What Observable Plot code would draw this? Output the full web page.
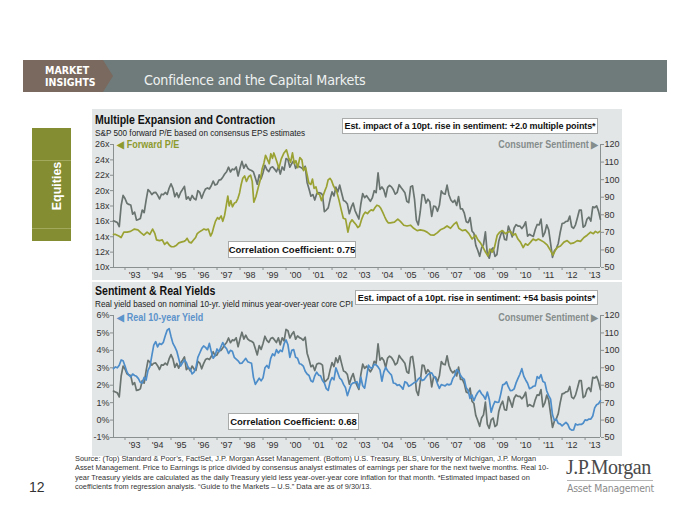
<!DOCTYPE html>
<html><head><meta charset="utf-8">
<script src="https://cdn.jsdelivr.net/npm/d3@7"></script>
<script src="https://cdn.jsdelivr.net/npm/@observablehq/plot@0.6"></script>
<style>
html,body{margin:0;padding:0;background:#fff;}
body{width:700px;height:525px;position:relative;overflow:hidden;font-family:"Liberation Sans",Arial,Helvetica,sans-serif;}
.abs{position:absolute;}
.box{position:absolute;background:#fff;border:1px solid #a9abab;font-weight:bold;color:#111;white-space:nowrap;box-sizing:border-box;display:flex;align-items:center;justify-content:center;z-index:3;}
.ptitle{position:absolute;font-weight:bold;font-size:12px;color:#111;white-space:nowrap;transform:scaleX(0.88);transform-origin:0 0;}
.psub{position:absolute;font-size:9.5px;color:#222;white-space:nowrap;transform:scaleX(0.86);transform-origin:0 0;}
.leg{position:absolute;font-weight:bold;font-size:10px;white-space:nowrap;transform:scaleX(0.9);}
svg{position:absolute;left:0;overflow:visible;}
</style></head>
<body>
<div id="hdr" class="abs" style="left:23px;top:60px;width:644px;height:32px;background:#6f7b7a;"></div>
<div class="abs" style="left:23px;top:60px;width:90px;height:32px;background:#7a695e;clip-path:polygon(0 0,80px 0,90px 50%,80px 100%,0 100%);"></div>
<div class="abs" style="left:45px;top:64px;color:#fff;font-weight:bold;font-size:10.5px;line-height:12px;font-family:'DejaVu Sans Condensed','DejaVu Sans',sans-serif;">MARKET<br>INSIGHTS</div>
<div class="abs" style="left:144px;top:72px;color:#eef1f1;font-size:14.2px;font-family:'DejaVu Sans Condensed','DejaVu Sans',sans-serif;font-weight:normal;letter-spacing:-0.2px;">Confidence and the Capital Markets</div>

<div class="abs" style="left:32px;top:128px;width:39px;height:113px;background:#848d31;"></div>
<div class="abs" style="left:32px;top:160px;width:39px;height:1px;background:#a2a95c;"></div>
<div class="abs" style="left:32px;top:228px;width:39px;height:1px;background:#a2a95c;"></div>
<div class="abs" style="left:57px;top:186px;transform:translate(-50%,-50%) rotate(-90deg);color:#fff;font-weight:bold;font-size:12.5px;white-space:nowrap;">Equities</div>

<div class="abs" style="left:92px;top:109px;width:530px;height:347px;background:#e3e6e7;"></div>
<div class="abs" style="left:92px;top:280px;width:530px;height:2px;background:#fff;"></div>

<div class="ptitle" style="left:95px;top:113px;">Multiple Expansion and Contraction</div>
<div class="psub" style="left:95px;top:127px;">S&amp;P 500 forward P/E based on consensus EPS estimates</div>
<div class="ptitle" style="left:95px;top:284px;">Sentiment &amp; Real Yields</div>
<div class="psub" style="left:95px;top:298px;">Real yield based on nominal 10-yr. yield minus year-over-year core CPI</div>

<div id="top"></div>
<div id="bot"></div>

<div class="leg" style="left:117px;top:139px;color:#8d9a2e;transform-origin:0 0;">&#9664; Forward P/E</div>
<div class="leg" style="right:102px;top:139px;color:#858d8c;transform-origin:100% 0;">Consumer Sentiment &#9654;</div>
<div class="leg" style="left:117px;top:312px;color:#5b93cb;transform-origin:0 0;">&#9664; Real 10-year Yield</div>
<div class="leg" style="right:102px;top:312px;color:#858d8c;transform-origin:100% 0;">Consumer Sentiment &#9654;</div>

<div class="box" style="left:342px;top:118px;width:256px;height:16px;font-size:9px;letter-spacing:-0.1px;">Est. impact of a 10pt. rise in sentiment: +2.0 multiple points*</div>
<div class="box" style="left:228px;top:241px;width:128px;height:17px;font-size:9.5px;">Correlation Coefficient: 0.75</div>
<div class="box" style="left:355px;top:290px;width:243px;height:15px;font-size:9px;letter-spacing:-0.1px;">Est. impact of a 10pt. rise in sentiment: +54 basis points*</div>
<div class="box" style="left:228px;top:413px;width:131px;height:17px;font-size:9.5px;">Correlation Coefficient: 0.68</div>

<div class="abs" style="left:75px;top:454px;font-size:7.4px;line-height:9.4px;color:#333;white-space:nowrap;">Source: (Top) Standard &amp; Poor’s, FactSet, J.P. Morgan Asset Management. (Bottom) U.S. Treasury, BLS, University of Michigan, J.P. Morgan<br>Asset Management. Price to Earnings is price divided by consensus analyst estimates of earnings per share for the next twelve months. Real 10-<br>year Treasury yields are calculated as the daily Treasury yield less year-over-year core inflation for that month. *Estimated impact based on<br>coefficients from regression analysis. “Guide to the Markets – U.S.” Data are as of 9/30/13.</div>
<div class="abs" style="left:29px;top:479px;font-size:14px;color:#333;">12</div>
<div class="abs" style="left:566px;top:456px;font-family:'Liberation Serif','Times New Roman',serif;font-size:20px;color:#4a4a4a;letter-spacing:-0.5px;">J.P.Morgan</div>
<div class="abs" style="left:567px;top:480px;width:86px;height:1px;background:#b5b5b5;"></div>
<div class="abs" style="left:567px;top:482px;font-family:'DejaVu Sans Condensed','DejaVu Sans',sans-serif;font-size:10.4px;color:#8b8b8b;letter-spacing:-0.2px;">Asset Management</div>

<script>
// ---------- DATA ----------
// Monthly series start July 1992, end September 2013
const startYear = 1992, startMonth = 7;
const sentiment = [
76.6,76.1,75.6,73.3,85.3,91.0,
89.3,86.6,85.9,85.6,80.3,81.5,77.0,77.3,77.9,82.7,81.2,88.2,
94.3,93.2,91.5,92.6,92.8,91.2,89.0,91.7,91.5,92.7,91.6,95.1,
97.6,95.1,90.3,92.5,89.8,92.7,94.4,96.2,88.9,90.2,88.2,91.0,
89.3,88.5,93.7,92.7,89.4,92.4,94.7,95.3,94.7,96.5,99.2,96.9,
97.4,99.7,100.0,101.4,103.2,104.5,107.1,104.4,106.0,105.6,107.2,102.1,
106.6,110.4,106.5,108.7,106.5,105.6,105.2,104.4,100.9,97.4,102.7,100.5,
103.9,108.1,105.7,104.6,106.8,107.3,106.0,104.5,107.2,103.2,107.2,105.4,
112.0,111.3,107.1,109.2,110.7,106.4,108.3,107.3,106.8,105.8,107.6,98.4,
94.7,90.6,91.5,88.4,92.0,92.6,92.4,91.5,81.8,82.7,83.9,88.8,
93.0,90.7,95.7,93.0,96.9,92.4,88.1,87.6,86.1,80.6,84.2,86.7,
82.4,79.9,77.6,86.0,92.1,89.7,90.9,89.3,87.7,89.6,93.7,92.6,
103.8,94.4,95.8,94.2,90.2,95.6,96.7,95.9,94.2,91.7,92.8,97.1,
95.5,94.1,92.6,87.7,86.9,96.0,96.5,89.1,76.9,74.2,81.6,91.5,
91.2,86.7,88.9,87.4,79.1,84.9,84.7,82.0,85.4,93.6,92.1,91.7,
96.9,91.3,88.4,87.1,88.3,85.3,90.4,83.4,83.4,80.9,76.1,75.5,
78.4,70.8,69.5,62.6,59.8,56.4,61.2,63.0,70.3,57.6,55.3,60.1,
61.2,56.3,57.3,65.1,68.7,70.8,66.0,65.7,73.5,70.6,67.4,72.5,
74.4,73.6,73.6,72.2,73.6,76.0,67.8,68.9,68.2,67.7,71.6,74.5,
74.2,77.5,67.5,69.8,74.3,71.5,63.7,55.8,59.5,60.8,63.7,69.9,
75.0,75.3,76.2,76.4,79.3,73.2,72.3,74.3,78.3,82.6,82.7,72.9,
73.8,77.6,78.6,76.4,84.5,84.1,85.1,82.1,77.5];
const realYield = [
2.95,3.05,3.0,3.15,3.45,3.4,
3.10,2.76,2.58,2.47,2.64,2.56,2.51,2.38,2.16,2.13,2.45,2.3,
2.85,3.07,3.7,4.3,4.5,4.20,4.40,4.34,4.46,4.84,5.16,5.25,
4.80,4.40,4.20,3.96,3.53,3.10,3.28,3.45,3.30,3.0,2.93,2.65,
2.75,3.01,3.6,3.85,4.10,4.25,4.17,4.04,4.40,3.93,3.55,3.70,
4.08,3.92,4.19,4.45,4.21,4.09,3.82,4.00,3.95,3.60,3.50,3.40,
3.25,3.27,3.40,3.54,3.35,3.30,3.26,2.45,2.05,2.23,2.40,2.25,
2.42,3.0,3.13,2.98,3.54,3.80,3.69,4.04,3.85,4.01,3.93,4.38,
4.60,4.32,3.60,4.0,4.04,3.60,3.55,3.23,3.20,3.10,2.80,2.64,
2.56,2.25,2.19,2.54,2.75,2.58,2.54,2.27,2.13,1.8,1.7,2.2,
2.44,2.31,3.0,2.71,2.4,2.3,2.05,1.86,1.4,1.74,2.05,2.13,
2.15,2.20,1.85,2.46,1.97,1.83,2.48,3.15,3.0,2.99,3.20,3.17,
3.05,2.88,2.23,2.75,3.02,2.83,2.70,2.58,2.13,2.10,1.99,2.03,
1.92,1.77,2.20,2.14,1.94,2.00,2.08,2.16,2.20,2.36,2.44,2.27,
2.32,2.47,2.62,2.69,2.71,2.51,2.39,2.08,1.82,2.03,2.00,1.96,
2.06,2.02,2.06,2.39,2.55,2.90,2.80,2.57,2.42,2.33,1.85,1.70,
1.24,1.44,1.11,1.38,1.58,1.70,1.51,1.39,1.19,1.61,1.2,0.45,
0.82,1.07,1.02,1.03,1.49,2.02,2.06,2.19,1.90,1.69,1.70,1.79,
2.13,2.39,2.63,2.95,2.52,2.30,2.11,1.80,1.85,1.94,1.96,2.49,
2.39,2.60,2.21,2.16,1.67,1.40,1.20,0.30,-0.02,0.05,-0.19,-0.22,
-0.33,-0.23,-0.13,-0.25,-0.50,-0.58,-0.57,-0.22,-0.28,-0.25,-0.25,-0.18,
0.01,-0.02,0.06,0.06,0.23,0.70,0.88,0.94,1.11];
// Forward P/E read at irregular dates (decimal years)
const peDates = [1992.50,1992.59,1992.73,1992.83,1992.95,1993.09,1993.24,1993.41,1993.56,1993.70,1993.82,1993.96,1994.08,1994.20,1994.30,1994.37,1994.50,1994.62,1994.72,1994.83,1994.93,1995.02,1995.12,1995.24,1995.34,1995.44,1995.56,1995.63,1995.70,1995.79,1995.88,1995.96,1996.07,1996.14,1996.22,1996.33,1996.43,1996.53,1996.62,1996.72,1996.79,1996.86,1996.93,1997.02,1997.09,1997.18,1997.25,1997.33,1997.37,1997.41,1997.47,1997.53,1997.60,1997.67,1997.76,1997.83,1997.91,1997.98,1998.05,1998.12,1998.20,1998.28,1998.37,1998.46,1998.53,1998.60,1998.69,1998.80,1998.89,1998.96,1999.04,1999.11,1999.20,1999.27,1999.34,1999.41,1999.47,1999.54,1999.62,1999.69,1999.79,1999.91,2000.02,2000.11,2000.20,2000.28,2000.36,2000.43,2000.51,2000.60,2000.69,2000.76,2000.85,2000.92,2000.99,2001.08,2001.15,2001.22,2001.30,2001.37,2001.46,2001.54,2001.62,2001.69,2001.76,2001.83,2001.91,2001.98,2002.05,2002.12,2002.20,2002.30,2002.40,2002.49,2002.59,2002.69,2002.78,2002.87,2002.95,2003.04,2003.12,2003.20,2003.29,2003.37,2003.45,2003.54,2003.62,2003.70,2003.79,2003.87,2003.95,2004.04,2004.12,2004.20,2004.29,2004.37,2004.45,2004.54,2004.71,2004.86,2004.97,2005.12,2005.26,2005.41,2005.55,2005.70,2005.84,2005.99,2006.13,2006.28,2006.42,2006.57,2006.71,2006.86,2007.00,2007.15,2007.29,2007.41,2007.51,2007.66,2007.80,2007.95,2008.09,2008.24,2008.34,2008.45,2008.57,2008.67,2008.78,2008.86,2008.96,2009.06,2009.18,2009.29,2009.40,2009.54,2009.64,2009.76,2009.87,2009.97,2010.08,2010.19,2010.31,2010.41,2010.51,2010.63,2010.74,2010.86,2010.97,2011.09,2011.21,2011.36,2011.50,2011.60,2011.70,2011.79,2011.93,2012.08,2012.22,2012.37,2012.51,2012.66,2012.80,2012.95,2013.09,2013.24,2013.36,2013.45,2013.55,2013.64];
const peValues = [14.3,14.3,14.1,13.9,14.6,14.6,14.7,15.0,14.9,14.5,14.2,14.6,14.3,15.0,14.4,13.6,13.5,13.6,13.0,13.3,12.9,12.7,12.7,12.9,13.2,13.3,13.4,13.5,13.8,13.3,13.2,13.5,13.9,14.4,14.6,14.8,15.0,14.9,15.0,14.1,14.5,15.3,16.0,16.5,16.3,16.7,16.0,16.8,17.5,18.2,19.3,18.0,18.7,17.9,18.4,18.5,19.0,19.7,20.8,21.6,21.9,21.2,21.8,22.0,21.2,18.5,19.2,20.5,21.5,22.8,23.6,24.6,24.0,23.5,24.8,24.2,24.9,24.3,23.6,22.9,24.1,24.9,25.3,24.3,23.7,24.9,23.5,23.9,23.0,24.3,24.0,22.6,23.0,22.0,21.0,20.8,21.5,20.3,20.5,19.6,19.5,18.7,19.4,20.0,20.5,21.4,21.6,21.3,20.7,20.3,19.9,18.8,17.5,16.4,16.3,14.6,15.8,16.2,15.9,15.6,15.2,15.4,16.3,16.9,17.2,17.0,17.3,17.5,17.4,17.8,18.1,18.0,17.7,17.2,16.6,16.1,15.8,15.8,15.9,16.3,16.0,15.5,15.4,15.5,15.1,14.8,14.9,14.8,14.6,14.25,14.2,14.5,14.9,15.1,15.4,15.1,15.6,15.9,15.1,14.8,14.9,14.4,13.7,14.2,13.6,13.2,12.6,12.0,11.5,12.4,12.0,12.6,14.2,14.6,14.8,14.4,14.6,14.7,14.2,14.4,13.7,13.3,12.6,13.1,12.9,13.3,13.7,13.5,13.7,13.5,13.3,12.9,12.2,11.6,12.2,12.6,12.8,13.3,13.5,13.1,13.2,13.5,13.4,13.9,14.2,14.6,14.4,14.7,14.5,14.7];
const yearLabels = d3.range(1993, 2014);
const peTicks = [10,12,14,16,18,20,22,24,26];
const sentTicks = [50,60,70,80,90,100,110,120];
const yieldTicks = [-1,0,1,2,3,4,5,6];

// ---------- helpers ----------
const C = {olive:"#9aa233", gray:"#69736f", blue:"#4d8dc9", axis:"#8a8f8f", text:"#333"};
const FONT = "'Liberation Sans', Arial, Helvetica, sans-serif";
const tOf = i => startYear + (startMonth - 1 + i) / 12;
const sentRows = sentiment.map((v, i) => ({t: tOf(i), v}));
const yieldRows = realYield.map((v, i) => ({t: tOf(i), v}));
const peRows = peDates.map((t, i) => ({t, v: peValues[i]}));
const xDomain = [1992.5, 2013.67];

function dualPlot({leftDomain, leftTicks, leftFmt, rows, color, top, height, mt, mb}) {
  const [l0, l1] = leftDomain;
  const toLeft = s => l0 + (s - 50) * (l1 - l0) / 70;
  const fromLeft = v => Math.round(50 + (v - l0) * 70 / (l1 - l0));
  const svg = Plot.plot({
    width: 700, height, marginTop: mt, marginBottom: mb, marginLeft: 113, marginRight: 100,
    style: {background: "transparent", fontFamily: FONT, fontSize: "9px", color: C.text, overflow: "visible"},
    x: {domain: xDomain, axis: null},
    y: {domain: leftDomain, axis: null},
    marks: [
      Plot.ruleX([xDomain[0]], {stroke: C.axis, strokeWidth: 1}),
      Plot.ruleX([xDomain[1]], {stroke: C.axis, strokeWidth: 1}),
      Plot.ruleY([l0], {stroke: C.axis, strokeWidth: 1}),
      Plot.axisY({anchor: "left", label: null, ticks: leftTicks, tickFormat: leftFmt, tickSize: 3, tickPadding: 1, stroke: C.axis, fill: C.text}),
      Plot.axisY({anchor: "right", label: null, ticks: sentTicks.map(toLeft), tickFormat: fromLeft, tickSize: 3, tickPadding: 1, stroke: C.axis, fill: C.text}),
      Plot.axisX({anchor: "bottom", label: null, ticks: d3.range(1993, 2014), tickSize: 3, tickFormat: () => "", stroke: C.axis}),
      Plot.axisX({anchor: "bottom", label: null, ticks: yearLabels.map(y => y + 0.42), tickSize: 0, tickPadding: 4,
        tickFormat: v => "'" + String(Math.floor(v)).slice(2), fill: C.text}),
      Plot.line(sentRows, {x: "t", y: d => toLeft(d.v), stroke: C.gray, strokeWidth: 1.7}),
      Plot.line(rows, {x: "t", y: "v", stroke: color, strokeWidth: 1.7})
    ]
  });
  svg.style.top = top + "px";
  return svg;
}

document.getElementById("top").appendChild(dualPlot({
  leftDomain: [10, 26], leftTicks: peTicks, leftFmt: d => d + "x",
  rows: peRows, color: C.olive, top: 130, height: 150, mt: 14, mb: 13
}));
document.getElementById("bot").appendChild(dualPlot({
  leftDomain: [-1, 6], leftTicks: yieldTicks, leftFmt: d => d + "%",
  rows: yieldRows, color: C.blue, top: 300, height: 150, mt: 15, mb: 13
}));
</script>
</body></html>
